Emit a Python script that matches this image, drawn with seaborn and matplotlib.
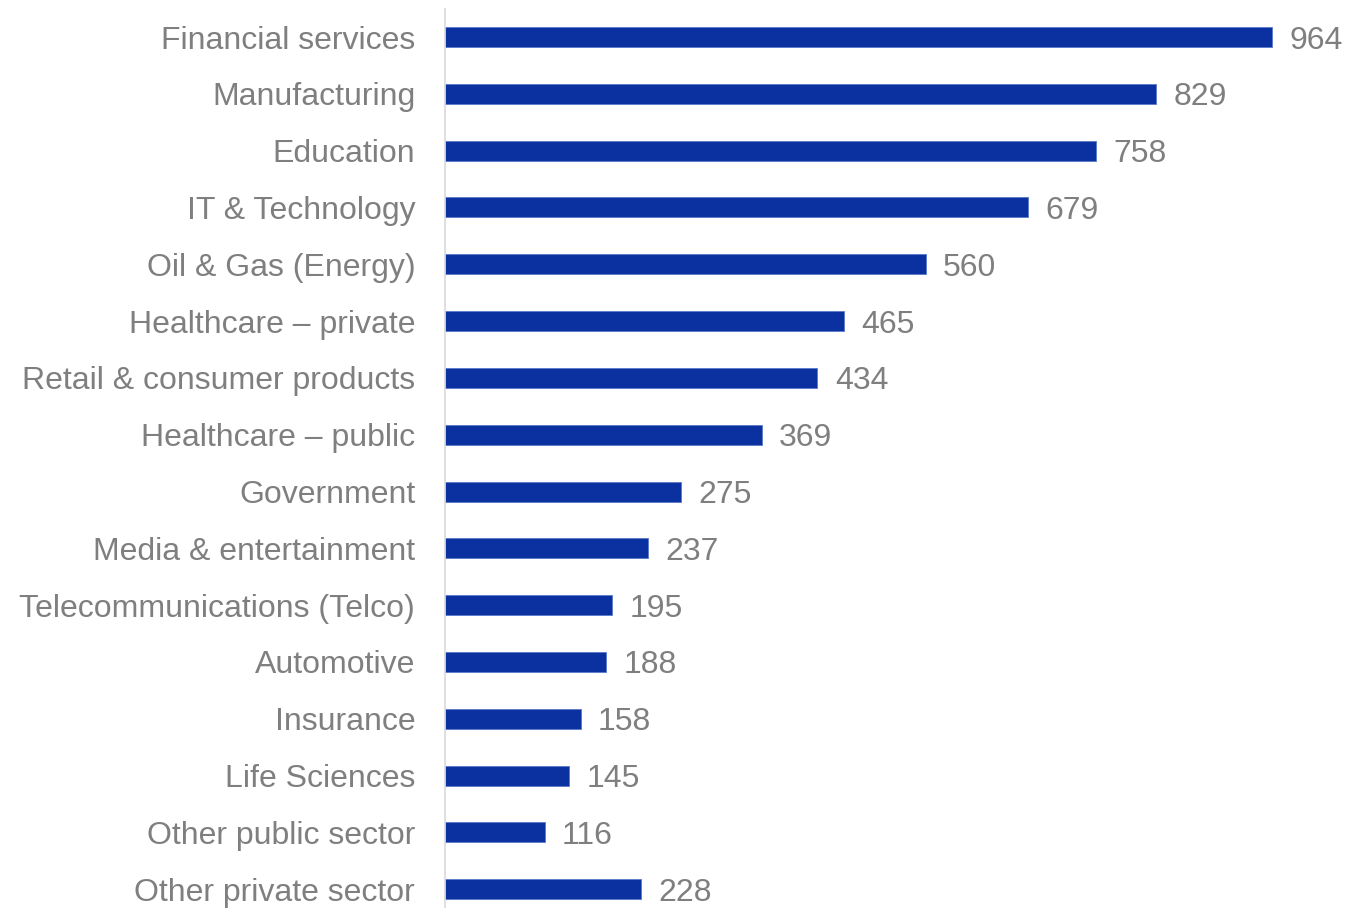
import matplotlib
matplotlib.use("Agg")
import matplotlib.pyplot as plt
import seaborn as sns
import pandas as pd

categories = [
    "Financial services", "Manufacturing", "Education", "IT & Technology",
    "Oil & Gas (Energy)", "Healthcare \u2013 private", "Retail & consumer products",
    "Healthcare \u2013 public", "Government", "Media & entertainment",
    "Telecommunications (Telco)", "Automotive", "Insurance", "Life Sciences",
    "Other public sector", "Other private sector",
]
counts = [964, 829, 758, 679, 560, 465, 434, 369, 275, 237, 195, 188, 158, 145, 116, 228]

df = pd.DataFrame({"industry": categories, "count": counts})

sns.set_theme(style="white")
plt.rcParams["font.family"] = ["Liberation Sans", "DejaVu Sans"]

W, H, DPI = 1347, 908, 100
fig = plt.figure(figsize=(W / DPI, H / DPI), dpi=DPI)
left = 445 / W
top = 8.6 / H
ax = fig.add_axes([left, 0, 1 - left, 1 - top])

sns.barplot(data=df, x="count", y="industry", order=categories,
            color="#0B31A0", saturation=1, width=0.352, ax=ax,
            edgecolor="#5A78C8", linewidth=0.6)

ax.set_xlim(0, 1051)
ax.set_ylim(15.33, -0.5)

text_color = "#7F7F7F"
fs = 23
for i, v in enumerate(counts):
    ax.annotate(f"{v}", xy=(v, i), xytext=(12.5, 0), textcoords="offset points",
                ha="left", va="center_baseline", fontsize=fs, color=text_color)

ax.set_xlabel("")
ax.set_ylabel("")
ax.set_xticks([])
ax.tick_params(axis="y", length=0, pad=21.5, labelsize=fs, labelcolor=text_color)
for lbl in ax.get_yticklabels():
    lbl.set_verticalalignment("center_baseline")
for s in ["top", "right", "bottom"]:
    ax.spines[s].set_visible(False)
ax.spines["left"].set_color("#D9D9D9")
ax.spines["left"].set_linewidth(1.2)

fig.savefig("out.png", dpi=DPI)
